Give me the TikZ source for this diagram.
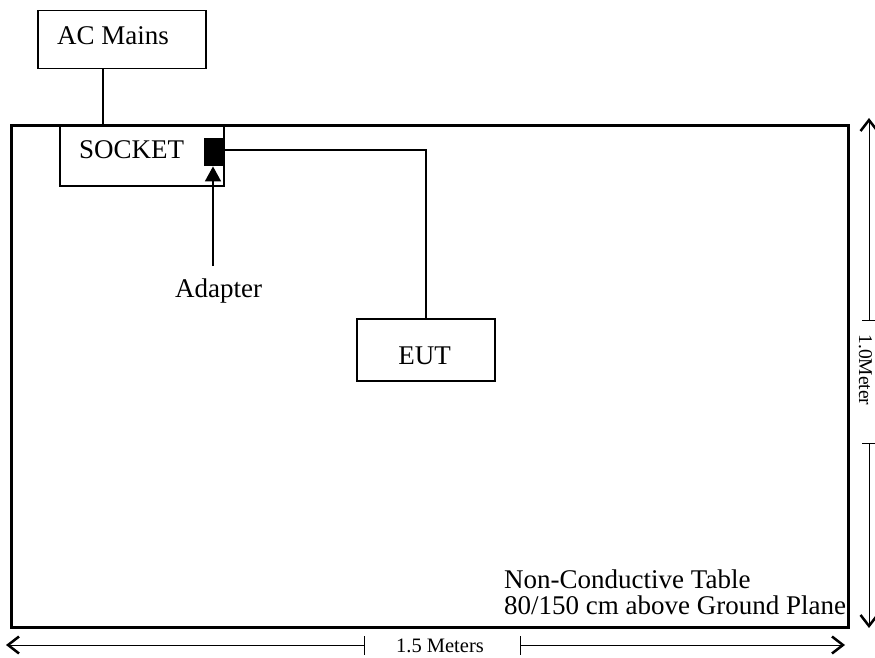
\documentclass[tikz,border=0pt]{standalone}
\usepackage{fontspec}
\setmainfont{Liberation Serif}
\usetikzlibrary{arrows.meta}
\begin{document}
\begin{tikzpicture}[x=1pt,y=-1pt,
  boxed/.style={draw,line width=1.5pt,anchor=north west,inner sep=0pt},
  lbl/.style={font=\fontsize{27}{32}\selectfont,inner sep=0pt},
  small/.style={font=\fontsize{20.5}{24}\selectfont,inner sep=0pt},
  wire/.style={line width=1.5pt},
  dim/.style={line width=1pt,-{Straight Barb[length=11pt,width=17pt,line width=2.5pt]}}]
\useasboundingbox (0,0) rectangle (875,658);
% table
\node[boxed,line width=3pt,minimum width=837pt,minimum height=502pt] (table) at (10,124) {};
% AC mains
\node[boxed,minimum width=168pt,minimum height=58pt] (ac) at (37,10) {};
\node[lbl,anchor=base west] (actxt) at (57,45) {AC Mains};
% socket
\node[boxed,minimum width=164pt,minimum height=61pt] (socket) at (59,124) {};
\node[lbl,anchor=base west] (socktxt) at (79,158) {SOCKET};
\node[fill=black,minimum width=20pt,minimum height=28pt,anchor=north west,inner sep=0pt] (adapter) at (204,138) {};
% EUT
\node[boxed,minimum width=138pt,minimum height=62pt] (eut) at (356,318) {};
\node[lbl,anchor=base] (euttxt) at (424.5,364) {EUT};
% Adapter label
\node[lbl,anchor=base west] (adtxt) at (175,297) {Adapter};
\coordinate (adtop) at (213,266);
% connections
\draw[wire] (ac.south -| 103,0) -- (103,125);
\draw[wire] (adapter.east |- 0,150) -- (426,150) -- (eut.north -| 426,0);
\draw[wire,-{Triangle[length=15pt,width=16pt]}] (adtop) -- (adapter.south -| adtop);
% table text
\node[lbl,anchor=base west] (t1) at (504,588) {Non-Conductive Table};
\node[lbl,anchor=base west] (t2) at (504,614) {80/150 cm above Ground Plane};
% bottom dimension
\coordinate (b1) at (364,645);
\coordinate (b2) at (520,645);
\coordinate (bl) at (6,645);
\coordinate (br) at (845,645);
\draw[dim] (b1) -- (bl);
\draw[dim] (b2) -- (br);
\draw[line width=1pt] (364,636) -- (364,655);
\draw[line width=1pt] (520,636) -- (520,655);
\node[small,anchor=base] (bm) at (440,652) {1.5 Meters};
% right dimension
\coordinate (r1) at (869,320);
\coordinate (r2) at (869,443);
\coordinate (rt) at (869,118);
\coordinate (rb) at (869,628);
\draw[dim] (r1) -- (rt);
\draw[dim] (r2) -- (rb);
\draw[line width=1pt] (862,320) -- (875,320);
\draw[line width=1pt] (862,443) -- (875,443);
\node[font=\fontsize{19.5}{23}\selectfont,inner sep=0pt,rotate=-90,anchor=base] (rm) at (859,370) {1.0Meter};
\end{tikzpicture}
\end{document}
